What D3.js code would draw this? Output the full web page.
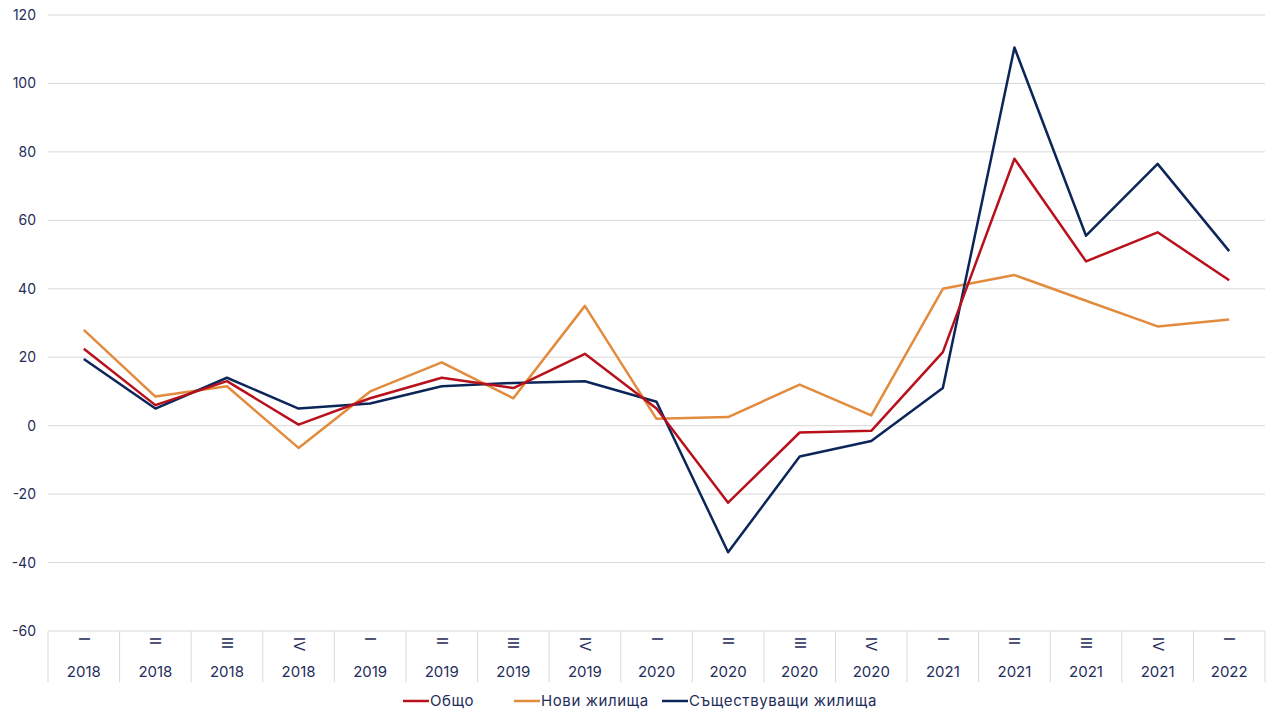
<!DOCTYPE html>
<html><head><meta charset="utf-8">
<script src="https://cdn.jsdelivr.net/npm/d3@7"></script>
<style>body{margin:0;background:#fff;font-family:Inter,"Noto Sans",sans-serif;}</style>
</head><body><div id="chart"></div>
<script>
var quarters = ["I","II","III","IV","I","II","III","IV","I","II","III","IV","I","II","III","IV","I"];
var years = ["2018","2018","2018","2018","2019","2019","2019","2019","2020","2020","2020","2020","2021","2021","2021","2021","2022"];
var total = [22.5, 6, 13, 0.3, 8, 14, 11, 21, 5, -22.5, -2, -1.5, 21.5, 78, 48, 56.5, 42.5];
var newHomes = [28, 8.5, 11.5, -6.5, 10, 18.5, 8, 35, 2, 2.5, 12, 3, 40, 44, 36.5, 29, 31];
var existing = [19.5, 5, 14, 5, 6.5, 11.5, 12.5, 13, 7, -37, -9, -4.5, 11, 110.5, 55.5, 76.5, 51];
var seriesNames = ["Общо", "Нови жилища", "Съществуващи жилища"];
var colors = ["#b8111c", "#e38b3d", "#0c2659"];
var yTicks = [-60,-40,-20,0,20,40,60,80,100,120];

var mLeft = 48, mRight = 1265, mTop = 15, mBottom = 631;
var svg = d3.select("#chart").append("svg").attr("width",1280).attr("height",720);

var x = d3.scaleBand().domain(d3.range(quarters.length)).range([mLeft,mRight]);
var y = d3.scaleLinear().domain([-60,120]).range([mBottom,mTop]);
var txt = "#1f2d5a";

svg.append("g").selectAll("line").data(yTicks).enter().append("line")
.attr("x1",mLeft).attr("x2",mRight)
.attr("y1",function(d){return y(d);}).attr("y2",function(d){return y(d);})
.attr("stroke","#d9d9d9");

svg.append("g").selectAll("text").data(yTicks).enter().append("text")
.attr("x",36).attr("y",function(d){return y(d)+5;})
.attr("text-anchor","end").attr("font-size",14).attr("fill",txt)
.text(function(d){return d;});

// category separators
svg.append("g").selectAll("line").data(d3.range(quarters.length+1)).enter().append("line")
.attr("x1",function(d){return mLeft + d*x.step();}).attr("x2",function(d){return mLeft + d*x.step();})
.attr("y1",mBottom).attr("y2",682).attr("stroke","#d9d9d9");

var cat = svg.append("g").selectAll("g").data(d3.range(quarters.length)).enter().append("g");
cat.append("text")
.attr("transform",function(d){return "translate(" + (x(d)+x.bandwidth()/2 - 5) + ",637) rotate(90)";})
.attr("font-size",15).attr("fill",txt)
.text(function(d){return quarters[d];});
cat.append("text")
.attr("x",function(d){return x(d)+x.bandwidth()/2;}).attr("y",677)
.attr("text-anchor","middle").attr("font-size",15).attr("fill",txt)
.text(function(d){return years[d];});

var line = d3.line().x(function(d,i){return x(i)+x.bandwidth()/2;}).y(function(d){return y(d);});
[newHomes, existing, total].forEach(function(s,k){
  var c = [colors[1], colors[2], colors[0]][k];
  svg.append("path").datum(s).attr("d",line).attr("fill","none")
  .attr("stroke",c).attr("stroke-width",2.5).attr("stroke-linejoin","round");
});

var legX = [403, 514, 662];
var leg = svg.append("g").selectAll("g").data(seriesNames).enter().append("g")
.attr("transform",function(d,i){return "translate(" + legX[i] + ",701)";});
leg.append("line").attr("x1",0).attr("x2",26).attr("stroke",function(d,i){return colors[i];}).attr("stroke-width",2.5);
leg.append("text").attr("x",27).attr("y",5).attr("font-size",15).attr("letter-spacing",0.6).attr("fill",txt).text(function(d){return d;});
</script></body></html>
